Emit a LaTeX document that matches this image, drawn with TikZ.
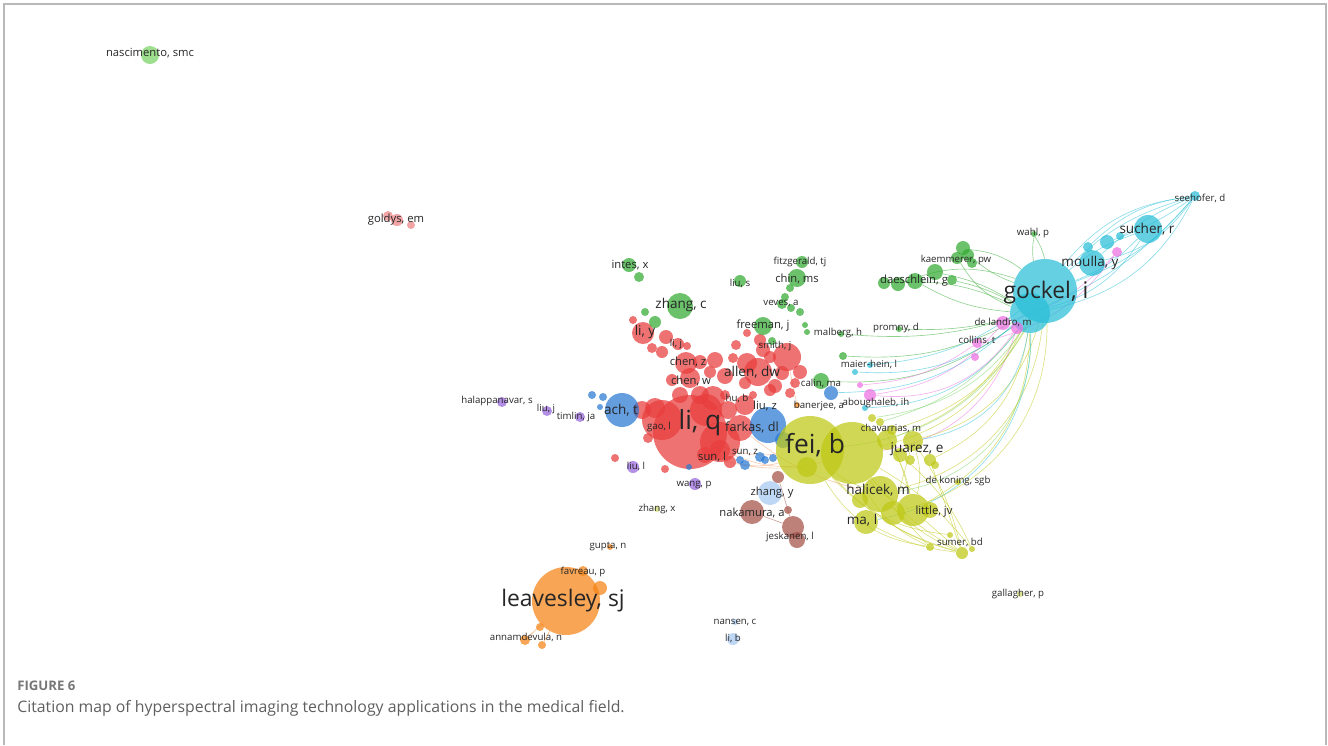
\documentclass[tikz,border=0pt]{standalone}
\usepackage{fontspec}
\setmainfont{Open Sans}
\usepackage{xcolor}
\usepackage{tikz}
\usetikzlibrary{backgrounds}

\definecolor{vred}{RGB}{232,60,60}
\definecolor{vgreen}{RGB}{50,170,50}
\definecolor{vblue}{RGB}{40,120,210}
\definecolor{vyellow}{RGB}{190,200,20}
\definecolor{vcyan}{RGB}{40,190,215}
\definecolor{vpurple}{RGB}{150,100,220}
\definecolor{vorange}{RGB}{245,130,20}
\definecolor{vbrown}{RGB}{165,80,70}
\definecolor{vpink}{RGB}{235,110,225}
\definecolor{vlblue}{RGB}{165,200,240}
\definecolor{vlgreen}{RGB}{120,210,100}
\definecolor{vlred}{RGB}{235,130,130}
\definecolor{vlyellow}{RGB}{205,215,110}
\definecolor{vsalmon}{RGB}{240,160,110}
\definecolor{framegray}{RGB}{185,185,185}
\definecolor{capgray}{RGB}{95,95,95}

\begin{document}
\begin{tikzpicture}[
    x=0.02cm, y=-0.02cm,
    bub/.style={circle, inner sep=0pt, draw=none, fill opacity=0.72},
    lbl/.style={inner sep=0pt, text=black!85},
    lXL/.style={lbl, font=\fontsize{15}{15}\selectfont},
    lL/.style={lbl, font=\fontsize{13}{13}\selectfont},
    lM/.style={lbl, font=\fontsize{7.7}{7.7}\selectfont},
    lS/.style={lbl, font=\fontsize{6.4}{6.4}\selectfont},
    lXS/.style={lbl, font=\fontsize{5.5}{5.5}\selectfont},
    edge/.style={draw=#1, line width=0.35pt, draw opacity=0.55}
]
\useasboundingbox (0,0) rectangle (1328,745);

% Frame
\draw[framegray, line width=1.1pt] (4,745) -- (4,4) -- (1326,4) -- (1326,745);

% Bubbles: red cluster
\foreach \n/\x/\y/\r in {liq/690/432/37, r30/662/420/20, r31/720/442/20, r32/706/410/16,
    farkas/740/428/13, r1/655/408/10, r2/642/410/9,
    r3/713/398/12, chenw/690/378/10, chenz/686/363/11, liy/643/333/11, lij/678/344/6,
    r5/666/337/7, r6/687/346/4, r7/633/320/4, r8/715/360/8, r9/733/358/5, r10/747/363/10,
    allen/758/372/14, r11/770/357/6, r12/787/357/14, r13/763/350/7, r14/782/373/7,
    r15/795/383/5, r16/747/333/4, hub/753/395/4, r18/790/393/5, r19/725/395/5,
    r20/615/458/4, r21/665/469/4, r22/648/438/5, r23/705/455/8, r24/720/450/10,
    r26/770/390/6, r27/728/410/9, r33/700/395/9, r34/680/395/8, r35/725/376/8,
    r36/775/386/7, r37/800/372/7, r38/745/383/6, r39/710/372/6, r40/662/352/6,
    r41/652/348/5, r42/700/362/7, r43/736/345/5, r44/760/340/6, r45/745/405/10,
    r46/672/380/6, r47/730/462/6}
    \node[bub, fill=vred, minimum size=\r*0.04cm] (\n) at (\x,\y) {};

% Bubbles: green cluster
\foreach \n/\x/\y/\r in {intes/629/265/7, g1/639/277/5, lius/740/281/6, fitz/802/262/6,
    chinms/797/278/9, g2/790/288/4, g3/785/297/4, zhangc/680/306/13, g4/655/322/6,
    g5/645/312/4, veves/782/304/5, g6/791/308/4, g7/800/312/4, freeman/763/326/9,
    g8/805/325/3, g9/807/332/3, smith/772/341/4, malberg/841/334/3, promny/899/329/3,
    g10/843/356/4, calin/821/381/8, kaem/963/248/7, g11/968/255/6, g12/957/258/6,
    g13/972/263/5, g14/935/272/8, g15/952/280/5, daesch/915/281/8, g16/898/284/7,
    g17/884/283/6, wahl/1034/234/3}
    \node[bub, fill=vgreen, minimum size=\r*0.04cm] (\n) at (\x,\y) {};

% Bubbles: blue cluster
\foreach \n/\x/\y/\r in {acht/622/410/17, b1/603/397/4, b2/592/395/4, b3/600/407/3,
    liuz/768/425/18, sunz/760/457/5, b5/745/465/5, b6/740/460/4, b7/765/460/4,
    b8/773/458/4, b9/831/393/7, b10/689/467/3, b11/783/440/8}
    \node[bub, fill=vblue, minimum size=\r*0.04cm] (\n) at (\x,\y) {};

% Bubbles: yellow cluster
\foreach \n/\x/\y/\r in {feib/810/450/34, fei2/852/453/31, y1/807/467/10,
    halicek/880/494/18, y3/893/513/12, little/913/510/16, y4/930/510/8, mal/866/522/12,
    y5/887/440/10, juarez/913/441/10, y6/930/460/6, y7/910/460/5, chav/880/422/4,
    y9/872/418/4, y10/892/430/5, sumer/962/553/6, y11/930/547/4, y12/972/549/3,
    y13/950/535/3, dekon/958/482/3, y14/935/465/4, y15/900/455/7, y16/860/500/8}
    \node[bub, fill=vyellow, minimum size=\r*0.04cm] (\n) at (\x,\y) {};

% Bubbles: cyan cluster
\foreach \n/\x/\y/\r in {gockel/1045/291/32, gock2/1030/313/20, moulla/1092/263/13,
    c1/1107/242/7, c2/1088/247/5, sucher/1148/229/14, seeh/1195/196/5,
    maier/870/365/3, c4/855/372/3, abou/865/408/3, c6/1120/236/4}
    \node[bub, fill=vcyan, minimum size=\r*0.04cm] (\n) at (\x,\y) {};

% Bubbles: pink cluster
\foreach \n/\x/\y/\r in {delandro/1003/323/7, p1/1017/328/6, collins/977/343/5,
    p2/975/357/4, p3/1117/252/5, p4/870/395/6, p5/860/385/3}
    \node[bub, fill=vpink, minimum size=\r*0.04cm] (\n) at (\x,\y) {};

% Bubbles: purple, orange, brown and the rest
\foreach \n/\x/\y/\r in {halap/502/402/5, liuj/547/411/5, timlin/580/417/5,
    liul/633/467/6, wangp/695/484/6}
    \node[bub, fill=vpurple, minimum size=\r*0.04cm] (\n) at (\x,\y) {};
\foreach \n/\x/\y/\r in {leaves/566/601/34, o1/600/588/7, favreau/583/571/5,
    o2/540/627/4, annam/525/640/5, o3/542/645/4, gupta/610/547/3, banerjee/797/405/3}
    \node[bub, fill=vorange, minimum size=\r*0.04cm] (\n) at (\x,\y) {};
\foreach \n/\x/\y/\r in {nakamura/752/512/12, jesk/793/527/11, br1/788/510/4,
    br2/778/477/6, br3/797/540/8}
    \node[bub, fill=vbrown, minimum size=\r*0.04cm] (\n) at (\x,\y) {};
\foreach \n/\x/\y/\r in {zhangy/770/493/12, nansen/735/622/3, lib/733/639/6}
    \node[bub, fill=vlblue, minimum size=\r*0.04cm] (\n) at (\x,\y) {};
\node[bub, fill=vlgreen, minimum size=0.36cm] (nasc) at (150,55) {};
\foreach \n/\x/\y/\r in {goldys/397/220/6, gl1/388/216/5, gl2/411/225/4}
    \node[bub, fill=vlred, minimum size=\r*0.04cm] (\n) at (\x,\y) {};
\foreach \n/\x/\y/\r in {zhangx/657/509/3, gallagher/1020/594/3}
    \node[bub, fill=vlyellow, minimum size=\r*0.04cm] (\n) at (\x,\y) {};

% Links
\begin{pgfonlayer}{background}
% gockel to the right
\draw[edge=vcyan] (gockel) to[bend left=10] (sucher);
\draw[edge=vcyan] (gockel) to[bend right=12] (sucher);
\draw[edge=vcyan] (gock2) to[bend right=20] (sucher);
\draw[edge=vcyan] (gockel) to[bend left=22] (seeh);
\draw[edge=vcyan] (gockel) to[bend left=14] (seeh);
\draw[edge=vcyan] (gockel) to[bend right=15] (seeh);
\draw[edge=vcyan] (gock2) to[bend right=25] (seeh);
\draw[edge=vcyan] (gock2) to[bend right=12] (seeh);
\draw[edge=vcyan] (moulla) to[bend left=10] (seeh);
\draw[edge=vcyan] (c1) to[bend right=8] (seeh);
\draw[edge=vcyan] (moulla) to[bend right=20] (seeh);
\draw[edge=vcyan] (c2) to[bend left=18] (seeh);
\draw[edge=vpink] (delandro) to[bend right=15] (p3);
\draw[edge=vpink] (collins) to[bend right=20] (p3);
% green group to gockel
\draw[edge=vgreen] (kaem) to[bend left=15] (gockel);
\draw[edge=vgreen] (g11) to[bend right=10] (gockel);
\draw[edge=vgreen] (g14) to[bend left=10] (gock2);
\draw[edge=vgreen] (daesch) to[bend right=12] (gock2);
\draw[edge=vgreen] (g16) to[bend left=20] (gockel);
\draw[edge=vgreen] (g12) to[bend right=18] (gock2);
\draw[edge=vgreen] (g15) to[bend left=8] (gock2);
\draw[edge=vgreen] (g17) to[bend left=14] (gock2);
\draw[edge=vgreen] (wahl) to[bend right=10] (gockel);
\draw[edge=vgreen] (wahl) to[bend left=10] (gockel);
% long links from the fei group up to gockel
\draw[edge=vgreen] (g10) to[bend right=15] (gock2);
\draw[edge=vgreen] (malberg) to[bend right=10] (gock2);
\draw[edge=vgreen] (calin) to[bend right=20] (gock2);
\draw[edge=vgreen] (promny) to[bend right=8] (gock2);
\draw[edge=vcyan] (c4) to[bend right=20] (gock2);
\draw[edge=vcyan] (abou) to[bend right=25] (gock2);
\draw[edge=vcyan] (maier) to[bend right=15] (gockel);
\draw[edge=vcyan] (b9) to[bend right=22] (gockel);
\draw[edge=vpink] (p4) to[bend right=20] (delandro);
\draw[edge=vpink] (p5) to[bend right=15] (collins);
\draw[edge=vpink] (p4) to[bend right=30] (p1);
\draw[edge=vpink] (fei2) to[bend right=32] (p1);
\draw[edge=vyellow] (fei2) to[bend right=25] (gock2);
\draw[edge=vyellow] (juarez) to[bend right=30] (gockel);
\draw[edge=vyellow] (y5) to[bend right=20] (gock2);
\draw[edge=vyellow] (halicek) to[bend right=35] (gockel);
\draw[edge=vyellow] (little) to[bend right=30] (gock2);
\draw[edge=vyellow] (y10) to[bend right=22] (gockel);
\draw[edge=vyellow] (y6) to[bend right=28] (gock2);
\draw[edge=vyellow] (y3) to[bend right=38] (gockel);
\draw[edge=vlgreen] (chav) to[bend right=18] (gock2);
\draw[edge=vlgreen] (y9) to[bend right=25] (gockel);
\draw[edge=vlgreen] (feib) to[bend right=28] (gockel);
\draw[edge=vlgreen] (halicek) to[bend right=42] (gock2);
\draw[edge=vcyan] (mal) to[bend right=40] (gock2);
\draw[edge=vcyan] (juarez) to[bend right=36] (gock2);
% inside the yellow group
\draw[edge=vyellow] (feib) to[bend right=15] (sumer);
\draw[edge=vyellow] (fei2) to[bend right=10] (sumer);
\draw[edge=vyellow] (fei2) to[bend right=15] (little);
\draw[edge=vyellow] (juarez) to[bend left=10] (sumer);
\draw[edge=vyellow] (halicek) to[bend right=10] (sumer);
\draw[edge=vyellow] (halicek) to (y11);
\draw[edge=vyellow] (mal) to[bend right=10] (sumer);
\draw[edge=vyellow] (little) to (sumer);
\draw[edge=vyellow] (y5) to[bend left=10] (little);
\draw[edge=vyellow] (juarez) to (y3);
\draw[edge=vyellow] (feib) to[bend right=10] (halicek);
\draw[edge=vyellow] (fei2) to[bend right=20] (y11);
\draw[edge=vyellow] (y6) to (sumer);
\draw[edge=vyellow] (juarez) to[bend left=15] (little);
\draw[edge=vyellow] (fei2) to[bend left=10] (y12);
\draw[edge=vyellow] (feib) to[bend right=20] (y13);
\draw[edge=vyellow] (y16) to[bend right=12] (sumer);
\draw[edge=vyellow] (feib) to[bend right=25] (y11);
\draw[edge=vyellow] (y15) to[bend left=12] (y12);
\draw[edge=vyellow] (chav) to[bend left=8] (little);
% red to yellow
\draw[edge=vsalmon] (liq) to[bend right=15] (feib);
\draw[edge=vsalmon] (r23) to[bend right=10] (y1);
\draw[edge=vsalmon] (farkas) to[bend right=12] (halicek);
\draw[edge=vsalmon] (r24) to[bend right=18] (fei2);
\draw[edge=vsalmon] (r47) to[bend right=14] (feib);
\draw[edge=vsalmon] (r12) to (banerjee);
% small groups
\draw[edge=vorange] (leaves) to (annam);
\draw[edge=vorange] (leaves) to (o3);
\draw[edge=vbrown] (nakamura) to (jesk);
\draw[edge=vbrown] (br2) to (jesk);
\end{pgfonlayer}

% Labels
\node[lS] (l-nasc) at (150,53) {nascimento, smc};
\node[lS] (l-goldys) at (396,220) {goldys, em};
\node[lS] (l-intes) at (630,265) {intes, x};
\node[lXS] (l-lius) at (740,283) {liu, s};
\node[lXS] (l-fitz) at (800,262) {fitzgerald, tj};
\node[lS] (l-chinms) at (797,279) {chin, ms};
\node[lM] (l-zhangc) at (681,305) {zhang, c};
\node[lXS] (l-veves) at (781,303) {veves, a};
\node[lS] (l-freeman) at (763,326) {freeman, j};
\node[lXS] (l-malberg) at (838,333) {malberg, h};
\node[lXS] (l-promny) at (896,328) {promny, d};
\node[lS] (l-daesch) at (914,281) {daeschlein, g};
\node[lXS] (l-kaem) at (956,260) {kaemmerer, pw};
\node[lXS] (l-wahl) at (1033,233) {wahl, p};
\node[lXS] (l-seeh) at (1200,198) {seehofer, d};
\node[lM] (l-sucher) at (1147,229) {sucher, r};
\node[lM] (l-moulla) at (1090,263) {moulla, y};
\node[lL] (l-gockel) at (1046,293) {gockel, i};
\node[lXS] (l-delandro) at (1003,322) {de landro, m};
\node[lXS] (l-collins) at (977,340) {collins, t};
\node[lXS] (l-maier) at (869,364) {maier-hein, l};
\node[lM] (l-liy) at (645,332) {li, y};
\node[lXS] (l-lij) at (676,344) {li, j};
\node[lS] (l-chenz) at (688,362) {chen, z};
\node[lXS] (l-smith) at (775,346) {smith, j};
\node[lM] (l-allen) at (752,372) {allen, dw};
\node[lS] (l-chenw) at (691,381) {chen, w};
\node[lXS] (l-calin) at (821,383) {calin, ma};
\node[lXS] (l-halap) at (497,401) {halappanavar, s};
\node[lXS] (l-liuj) at (546,409) {liu, j};
\node[lXS] (l-timlin) at (576,417) {timlin, ja};
\node[lM] (l-acht) at (621,410) {ach, t};
\node[lXS] (l-hub) at (737,398) {hu, b};
\node[lS] (l-liuz) at (765,406) {liu, z};
\node[lXS] (l-banerjee) at (819,406) {banerjee, a};
\node[lXS] (l-abou) at (876,403) {aboughaleb, ih};
\node[lXS] (l-gaol) at (659,427) {gao, l};
\node[lXL] (l-liq) at (700,423) {li, q};
\node[lbl, font=\fontsize{7.2}{7.2}\selectfont] (l-farkas) at (752,427) {farkas, dl};
\node[lXL] (l-feib) at (815,445) {fei, b};
\node[lXS] (l-chav) at (891,428) {chavarrias, m};
\node[lM] (l-juarez) at (917,449) {juarez, e};
\node[lXS] (l-sunz) at (745,452) {sun, z};
\node[lS] (l-sunl) at (712,457) {sun, l};
\node[lXS] (l-liul) at (636,466) {liu, l};
\node[lXS] (l-wangp) at (694,485) {wang, p};
\node[lS] (l-zhangy) at (772,493) {zhang, y};
\node[lM] (l-halicek) at (878,490) {halicek, m};
\node[lXS] (l-dekon) at (958,481) {de koning, sgb};
\node[lXS] (l-zhangx) at (657,509) {zhang, x};
\node[lS] (l-nakamura) at (752,513) {nakamura, a};
\node[lM] (l-mal) at (862,520) {ma, l};
\node[lS] (l-little) at (934,512) {little, jv};
\node[lXS] (l-jesk) at (790,537) {jeskanen, l};
\node[lXS] (l-sumer) at (960,542) {sumer, bd};
\node[lXS] (l-gupta) at (608,546) {gupta, n};
\node[lXS] (l-favreau) at (583,572) {favreau, p};
\node[lL] (l-leaves) at (563,601) {leavesley, sj};
\node[lXS] (l-gallagher) at (1018,594) {gallagher, p};
\node[lXS] (l-nansen) at (735,622) {nansen, c};
\node[lXS] (l-annam) at (526,637) {annamdevula, n};
\node[lXS] (l-lib) at (733,638) {li, b};

% Caption
\node[anchor=west, inner sep=0pt, text=capgray!85, font=\fontsize{7.5}{7.5}\selectfont\bfseries] (fig) at (17,686) {FIGURE 6};
\node[anchor=west, inner sep=0pt, text=capgray, font=\fontsize{9}{9}\selectfont] (cap) at (17,708) {Citation map of hyperspectral imaging technology applications in the medical field.};

\end{tikzpicture}
\end{document}
